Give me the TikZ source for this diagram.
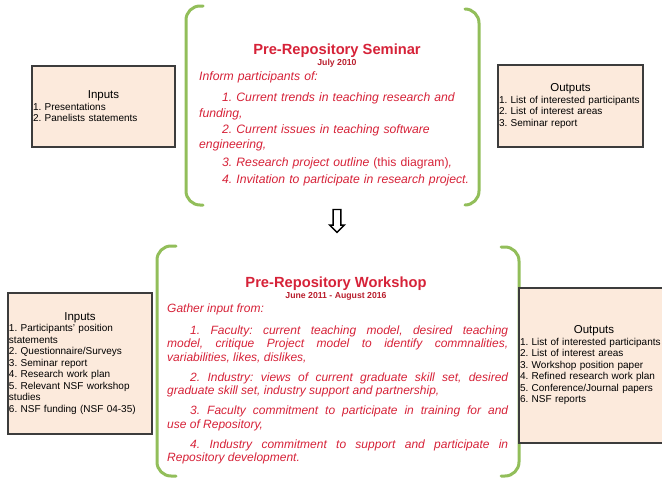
\documentclass[tikz,border=0pt]{standalone}
\usepackage{fontspec}
\setmainfont{Liberation Sans}
\usetikzlibrary{shapes.arrows}
\frenchspacing
\definecolor{bracegreen}{RGB}{146,190,90}
\definecolor{titlered}{RGB}{214,34,56}
\definecolor{datered}{RGB}{185,30,45}
\definecolor{boxfill}{RGB}{252,234,220}
\definecolor{boxline}{RGB}{60,60,60}
\tikzset{
  brace/.style={bracegreen, line width=3pt, rounded corners=14pt, line cap=round},
  iobox/.style={draw=boxline, fill=boxfill, line width=1.4pt, inner xsep=1pt, inner ysep=0pt,
    align=left, font=\fontsize{10}{11.5}\selectfont},
  headline/.style={titlered, inner sep=0pt, font=\bfseries\fontsize{14.7}{16}\selectfont},
  dateline/.style={datered, inner sep=0pt, font=\bfseries\fontsize{8.7}{10}\selectfont},
  bodytext/.style={titlered, inner sep=0pt}
}
\newcommand{\iohead}[1]{{\centering\fontsize{11.5}{13}\selectfont #1\par}\raggedright}
\newcommand{\itemgap}{\hspace*{23pt}}
\begin{document}
\begin{tikzpicture}[x=1pt,y=-1pt]
  \useasboundingbox (0,0) rectangle (662,479);
  \draw[brace] (203,6) -- (186,6) -- (186,205) -- (203,205);
  \draw[brace] (465,9) -- (479,9) -- (479,205) -- (465,205);
  \node[headline, anchor=base] (semtitle) at (337,54) {Pre-Repository Seminar};
  \node[dateline, anchor=base] (semdate) at (337,65.5) {July 2010};
  \node[bodytext, anchor=base west, text width=280pt, align=left,
    font=\itshape\fontsize{12.2}{15.5}\selectfont] (sembody) at (199,80) {Inform participants of:\\[6pt]
    \itemgap 1. Current trends in teaching research and\\ funding,\\[1pt]
    \itemgap 2. Current issues in teaching software\\ engineering,\\[1.5pt]
    \itemgap 3. Research project outline {\upshape(this diagram)},\\[2.5pt]
    \itemgap 4. Invitation to participate in research project.};
  \node[iobox, text width=141pt, minimum height=81pt] (semin) at (103.5,106.5)
    {\iohead{Inputs}1. Presentations\\2. Panelists statements};
  \node[iobox, text width=143pt, minimum height=82pt] (semout) at (570.5,106)
    {\iohead{Outputs}1. List of interested participants\\2. List of interest areas\\3. Seminar report};
  \node[draw=black, fill=white, single arrow, shape border rotate=270, line width=1.4pt,
    minimum height=23pt, minimum width=14pt, inner sep=3.2pt, single arrow head extend=3.5pt] (down) at (337,219) {};
  \draw[brace] (176,246) -- (157,246) -- (157,476) -- (176,476);
  \draw[brace] (501,247) -- (519,247) -- (519,476) -- (501,476);
  \node[headline, anchor=base] (wstitle) at (336,287) {Pre-Repository Workshop};
  \node[dateline, anchor=base] (wsdate) at (336,298.5) {June 2011 - August 2016};
  \node[bodytext, anchor=base west, text width=341pt, align=justify,
    font=\itshape\fontsize{12}{13.5}\selectfont\setlength{\parindent}{0pt}\setlength{\parskip}{6.5pt}] (wsbody) at (167,312)
    {Gather input from:\par\vspace{2pt}
    \itemgap 1. Faculty: current teaching model, desired teaching\linebreak model, critique Project model to identify commnalities,\linebreak variabilities, likes, dislikes,\par
    \itemgap 2. Industry: views of current graduate skill set, desired\linebreak graduate skill set, industry support and partnership,\par
    \itemgap 3. Faculty commitment to participate in training for and\linebreak use of Repository,\par
    \itemgap 4. Industry commitment to support and participate in\linebreak Repository development.};
  \node[iobox, text width=142pt, minimum height=141pt] (wsin) at (80,363.5)
    {\iohead{Inputs}1. Participants' position\\statements\\2. Questionnaire/Surveys\\3. Seminar report\\4. Research work plan\\5. Relevant NSF workshop\\studies\\6. NSF funding (NSF 04-35)};
  \node[iobox, text width=148pt, minimum height=155pt] (wsout) at (594,365.5)
    {\iohead{Outputs}1. List of interested participants\\2. List of interest areas\\3. Workshop position paper\\4. Refined research work plan\\5. Conference/Journal papers\\6. NSF reports};
\end{tikzpicture}
\end{document}
